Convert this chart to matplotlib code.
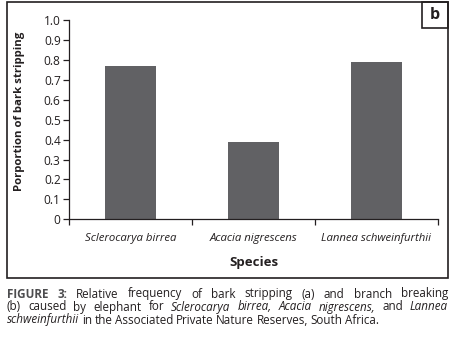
import matplotlib.pyplot as plt
from matplotlib.patches import Rectangle

# data
species = ['Sclerocarya birrea', 'Acacia nigrescens', 'Lannea schweinfurthii']
proportion = [0.77, 0.39, 0.79]
yticks = [0, 0.1, 0.2, 0.3, 0.4, 0.5, 0.6, 0.7, 0.8, 0.9, 1.0]
ytick_labels = ['0', '0.1', '0.2', '0.3', '0.4', '0.5', '0.6', '0.7', '0.8', '0.9', '1.0']

W, H = 452, 337
bar_color = '#616164'
text_color = '#231f20'
font = 'Open Sans'

fig = plt.figure(figsize=(W / 100, H / 100), dpi=100)
plt.rcParams['font.family'] = [font, 'DejaVu Sans']


def fx(px):
    return px / W


def fy(py):
    return 1 - py / H


# outer frame and panel letter box
fig.patches.append(Rectangle((fx(7), fy(278)), fx(448) - fx(7), fy(1.5) - fy(278),
                             transform=fig.transFigure, fill=False, lw=1.2, ec='#231f20'))
fig.patches.append(Rectangle((fx(422), fy(28)), fx(448) - fx(422), fy(1.5) - fy(28),
                             transform=fig.transFigure, fill=False, lw=1.2, ec='#231f20'))
fig.text(fx(435), fy(15), 'b', ha='center', va='center', fontsize=11.5, fontweight='bold',
         color=text_color)

ax = fig.add_axes([fx(69), fy(219.3), fx(438) - fx(69), fy(20) - fy(219.3)])
x = list(range(len(species)))
ax.bar(x, proportion, width=0.41, color=bar_color)

ax.set_xlim(-0.5, len(species) - 0.5)
ax.set_ylim(0, 1.0)
ax.set_yticks(yticks)
ax.set_yticklabels(ytick_labels)
ax.set_xticks([i - 0.5 for i in range(len(species) + 1)])
ax.set_xticklabels([])
ax.set_xticks(x, minor=True)
ax.set_xticklabels(species, minor=True, fontstyle='italic')
ax.tick_params(axis='x', which='minor', length=0, pad=10, labelsize=8.2, labelcolor=text_color)
ax.tick_params(axis='x', which='major', length=4, width=0.9, color='#231f20')
ax.tick_params(axis='y', length=4, width=0.9, labelsize=8.6, labelcolor=text_color,
               color='#231f20', pad=2)
for s in ['top', 'right']:
    ax.spines[s].set_visible(False)
for s in ['left', 'bottom']:
    ax.spines[s].set_linewidth(0.9)
    ax.spines[s].set_color('#231f20')

ax.set_xlabel('Species', fontsize=9.5, fontweight='bold', color=text_color)
ax.xaxis.set_label_coords(0.5, -0.185)
ax.set_ylabel('Porportion of bark stripping', fontsize=8.2, fontweight='bold', color=text_color)
ax.yaxis.set_label_coords(-0.119, 0.54)

# caption, justified like the journal layout
caption_lines = [
    ([('FIGURE 3:', 'bold', 'normal'),
      ('Relative frequency of bark stripping (a) and branch breaking', 'normal', 'normal')], True),
    ([('(b) caused by elephant for', 'normal', 'normal'),
      ('Sclerocarya birrea, Acacia nigrescens,', 'normal', 'italic'),
      ('and', 'normal', 'normal'), ('Lannea', 'normal', 'italic')], True),
    ([('schweinfurthii', 'normal', 'italic'),
      ('in the Associated Private Nature Reserves, South Africa.', 'normal', 'normal')], False),
]
line_y = [294, 307, 320]
left_px, right_px = 7, 448
cap_size = 8.4

renderer = fig.canvas.get_renderer()
for (chunks, justify), ypx in zip(caption_lines, line_y):
    words = []
    for txt, weight, style in chunks:
        for w in txt.split(' '):
            words.append((w, weight, style))
    artists = []
    for w, weight, style in words:
        color = '#4d4d4f' if weight == 'bold' else text_color
        t = fig.text(0, fy(ypx), w, fontsize=cap_size, fontweight=weight, fontstyle=style,
                     color=color, va='center', ha='left')
        artists.append(t)
    widths = [a.get_window_extent(renderer).width for a in artists]
    if justify:
        gap = (right_px - left_px - sum(widths)) / (len(words) - 1)
    else:
        gap = 2.6
    pos = left_px
    for a, wd in zip(artists, widths):
        a.set_x(fx(pos))
        pos += wd + gap

fig.savefig('out.png', dpi=100)
